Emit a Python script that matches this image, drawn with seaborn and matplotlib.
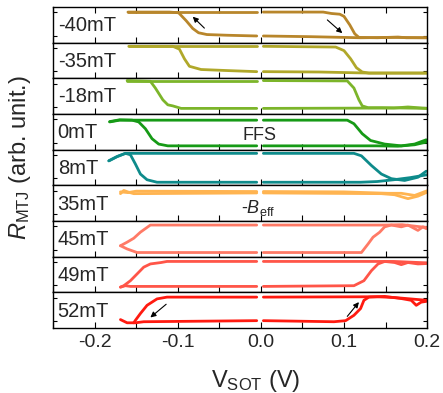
import numpy as np
import pandas as pd
import matplotlib
matplotlib.use("Agg")
import matplotlib.pyplot as plt
from matplotlib.ticker import MultipleLocator, FormatStrFormatter
import seaborn as sns

sns.set_style("ticks")
plt.rcParams["font.family"] = ["Liberation Sans", "DejaVu Sans"]
plt.rcParams["axes.unicode_minus"] = False
plt.rcParams["mathtext.fontset"] = "custom"
plt.rcParams["mathtext.rm"] = "Liberation Sans"
plt.rcParams["mathtext.it"] = "Liberation Sans:italic"
plt.rcParams["mathtext.bf"] = "Liberation Sans:bold"

# ---------------- data ----------------
fields = ["-40mT", "-35mT", "-18mT", "0mT", "8mT", "35mT", "45mT", "49mT", "52mT"]
colors = ["#B8862B", "#B0A82A", "#7CB52A", "#169A16", "#0E8B8B",
          "#FFB451", "#FF7A66", "#FF5548", "#FF1A10"]

# -40 mT
m40_up_x = [-0.160, -0.005, 0.003, 0.075, 0.085, 0.095, 0.100, 0.107, 0.113, 0.118, 0.140, 0.165, 0.175, 0.200]
m40_up_y = [0.86, 0.86, 0.86, 0.86, 0.82, 0.80, 0.74, 0.50, 0.25, 0.15, 0.14, 0.16, 0.14, 0.14]
m40_dn_x = [0.200, 0.160, 0.120, 0.060, 0.003, -0.005, -0.040, -0.065, -0.075, -0.082, -0.090, -0.099, -0.110, -0.160]
m40_dn_y = [0.14, 0.15, 0.14, 0.17, 0.19, 0.19, 0.21, 0.23, 0.28, 0.40, 0.62, 0.84, 0.86, 0.86]
# -35 mT
m35_up_x = [-0.159, -0.005, 0.003, 0.090, 0.100, 0.108, 0.115, 0.122, 0.130, 0.200]
m35_up_y = [0.90, 0.90, 0.90, 0.88, 0.78, 0.55, 0.30, 0.18, 0.15, 0.15]
m35_dn_x = [0.200, 0.130, 0.070, 0.003, -0.005, -0.040, -0.072, -0.086, -0.092, -0.098, -0.106, -0.159]
m35_dn_y = [0.15, 0.15, 0.18, 0.19, 0.19, 0.22, 0.25, 0.34, 0.55, 0.82, 0.90, 0.90]
# -18 mT
m18_up_x = [-0.161, -0.005, 0.003, 0.104, 0.112, 0.118, 0.122, 0.129, 0.145, 0.200]
m18_up_y = [0.94, 0.94, 0.94, 0.93, 0.73, 0.40, 0.23, 0.18, 0.18, 0.16]
m18_dn_x = [0.200, 0.177, 0.160, 0.003, -0.005, -0.096, -0.106, -0.112, -0.118, -0.127, -0.133, -0.161]
m18_dn_y = [0.16, 0.20, 0.17, 0.16, 0.16, 0.16, 0.23, 0.26, 0.40, 0.73, 0.92, 0.94]
# 0 mT
p0_up_x = [-0.182, -0.170, -0.155, -0.005, 0.003, 0.104, 0.112, 0.122, 0.132, 0.149, 0.169, 0.185, 0.199]
p0_up_y = [0.78, 0.83, 0.83, 0.83, 0.83, 0.83, 0.73, 0.45, 0.26, 0.16, 0.11, 0.16, 0.28]
p0_dn_x = [0.200, 0.185, 0.165, 0.140, 0.003, -0.005, -0.112, -0.123, -0.131, -0.139, -0.147, -0.155, -0.170, -0.182]
p0_dn_y = [0.22, 0.14, 0.10, 0.11, 0.11, 0.11, 0.11, 0.16, 0.31, 0.59, 0.78, 0.83, 0.84, 0.79]
# 8 mT
p8_up_x = [-0.183, -0.173, -0.163, -0.005, 0.003, 0.112, 0.121, 0.133, 0.145, 0.157, 0.173, 0.189, 0.199]
p8_up_y = [0.69, 0.81, 0.90, 0.90, 0.90, 0.90, 0.83, 0.56, 0.32, 0.19, 0.14, 0.23, 0.40]
p8_dn_x = [0.200, 0.180, 0.160, 0.140, 0.120, 0.003, -0.005, -0.125, -0.137, -0.145, -0.151, -0.157, -0.163, -0.173, -0.183]
p8_dn_y = [0.30, 0.22, 0.16, 0.11, 0.09, 0.09, 0.09, 0.09, 0.16, 0.32, 0.60, 0.86, 0.90, 0.81, 0.69]
# 35 mT
p35_up_x = [-0.169, -0.165, -0.159, -0.153, -0.005, 0.003, 0.145, 0.161, 0.177, 0.189, 0.199]
p35_up_y = [0.77, 0.86, 0.81, 0.77, 0.79, 0.79, 0.77, 0.74, 0.63, 0.70, 0.80]
p35_dn_x = [0.200, 0.185, 0.169, 0.153, 0.100, 0.003, -0.005, -0.150, -0.160, -0.169]
p35_dn_y = [0.85, 0.72, 0.78, 0.78, 0.82, 0.83, 0.83, 0.84, 0.80, 0.82]
# 45 mT
p45_up_x = [-0.169, -0.161, -0.149, -0.005, 0.003, 0.121, 0.129, 0.135, 0.143, 0.149, 0.157, 0.169, 0.177, 0.189, 0.195, 0.199]
p45_up_y = [0.31, 0.22, 0.12, 0.12, 0.12, 0.12, 0.36, 0.55, 0.69, 0.84, 0.89, 0.84, 0.89, 0.74, 0.84, 0.79]
p45_dn_x = [0.200, 0.185, 0.170, 0.150, 0.003, -0.005, -0.133, -0.145, -0.153, -0.161, -0.169]
p45_dn_y = [0.82, 0.86, 0.90, 0.89, 0.89, 0.89, 0.89, 0.69, 0.52, 0.41, 0.31]
# 49 mT
p49_up_x = [-0.169, -0.163, -0.157, -0.005, 0.003, 0.112, 0.124, 0.133, 0.141, 0.149, 0.161, 0.169, 0.177, 0.189, 0.199]
p49_up_y = [0.15, 0.19, 0.17, 0.17, 0.17, 0.19, 0.33, 0.61, 0.80, 0.87, 0.84, 0.78, 0.84, 0.80, 0.81]
p49_dn_x = [0.200, 0.180, 0.160, 0.003, -0.005, -0.113, -0.120, -0.133, -0.141, -0.149, -0.157, -0.165, -0.169]
p49_dn_y = [0.83, 0.85, 0.87, 0.87, 0.87, 0.87, 0.84, 0.80, 0.71, 0.52, 0.33, 0.19, 0.15]
# 52 mT
p52_up_x = [-0.169, -0.161, -0.151, -0.141, -0.005, 0.003, 0.088, 0.102, 0.112, 0.120, 0.124, 0.130, 0.149, 0.169, 0.181, 0.187, 0.193, 0.199]
p52_up_y = [0.24, 0.15, 0.15, 0.18, 0.21, 0.21, 0.18, 0.21, 0.36, 0.55, 0.78, 0.87, 0.89, 0.83, 0.78, 0.64, 0.73, 0.75]
p52_dn_x = [0.200, 0.180, 0.160, 0.140, 0.003, -0.005, -0.113, -0.125, -0.137, -0.145, -0.151, -0.153]
p52_dn_y = [0.78, 0.82, 0.86, 0.88, 0.87, 0.87, 0.87, 0.82, 0.64, 0.41, 0.22, 0.15]

branches = [
    (m40_up_x, m40_up_y, m40_dn_x, m40_dn_y),
    (m35_up_x, m35_up_y, m35_dn_x, m35_dn_y),
    (m18_up_x, m18_up_y, m18_dn_x, m18_dn_y),
    (p0_up_x, p0_up_y, p0_dn_x, p0_dn_y),
    (p8_up_x, p8_up_y, p8_dn_x, p8_dn_y),
    (p35_up_x, p35_up_y, p35_dn_x, p35_dn_y),
    (p45_up_x, p45_up_y, p45_dn_x, p45_dn_y),
    (p49_up_x, p49_up_y, p49_dn_x, p49_dn_y),
    (p52_up_x, p52_up_y, p52_dn_x, p52_dn_y),
]


def branch_frame(ux, uy, dx, dy):
    rows = []
    for name, xs, ys in (("up", ux, uy), ("dn", dx, dy)):
        for x, y in zip(xs, ys):
            seg = name + ("_neg" if x < 0 else "_pos")
            rows.append((x, y, seg))
    return pd.DataFrame(rows, columns=["x", "y", "seg"])


fig, axes = plt.subplots(9, 1, sharex=True, figsize=(4.43, 3.93), dpi=100,
                         gridspec_kw=dict(hspace=0))
fig.subplots_adjust(left=0.12, right=0.964, top=0.982, bottom=0.165)

for i, (ax, name, col, br) in enumerate(zip(axes, fields, colors, branches)):
    df = branch_frame(*br)
    sns.lineplot(data=df, x="x", y="y", units="seg", estimator=None, sort=False,
                 color=col, lw=2.0, ax=ax, legend=False)
    ax.set_xlim(-0.25, 0.2)
    ax.set_ylim(0, 1)
    ax.set_yticks([0.2, 0.85])
    ax.set_yticklabels([])
    ax.set_ylabel("")
    ax.set_xlabel("")
    ax.xaxis.set_major_locator(MultipleLocator(0.1))
    ax.xaxis.set_minor_locator(MultipleLocator(0.05))
    ax.xaxis.set_major_formatter(FormatStrFormatter("%.1f"))
    ax.tick_params(axis="both", which="both", direction="in", width=0.8,
                   color="black", left=True, right=True, bottom=True, top=(i == 0),
                   labelbottom=(i == 8), labelsize=14, pad=4)
    ax.tick_params(axis="x", which="major", length=4.5)
    ax.tick_params(axis="x", which="minor", length=4)
    ax.tick_params(axis="y", which="major", length=3)
    for s in ax.spines.values():
        s.set_linewidth(1.0)
        s.set_color("black")
    ax.text(0.012, 0.48, name, transform=ax.transAxes, ha="left", va="center",
            fontsize=14.5)

axes[3].text(-0.002, 0.40, "FFS", ha="center", va="center", fontsize=13)
axes[5].text(-0.004, 0.36, "-$B_\\mathrm{eff}$", ha="center", va="center", fontsize=13)

arrow = dict(arrowstyle="-|>", color="black", lw=0.8, mutation_scale=8,
             shrinkA=0, shrinkB=0)
axes[0].annotate("", xy=(-0.082, 0.73), xytext=(-0.068, 0.41), arrowprops=arrow)
axes[0].annotate("", xy=(0.098, 0.27), xytext=(0.080, 0.64), arrowprops=arrow)
axes[8].annotate("", xy=(-0.133, 0.30), xytext=(-0.114, 0.67), arrowprops=arrow)
axes[8].annotate("", xy=(0.118, 0.73), xytext=(0.104, 0.33), arrowprops=arrow)

fig.text(0.045, 0.60, "$R_\\mathrm{MTJ}$ (arb. unit.)", rotation=90,
         ha="center", va="center", fontsize=17)
fig.text(0.577, 0.015, "V$_\\mathrm{SOT}$ (V)", ha="center", va="baseline",
         fontsize=17)

fig.savefig("out.png", dpi=100)
